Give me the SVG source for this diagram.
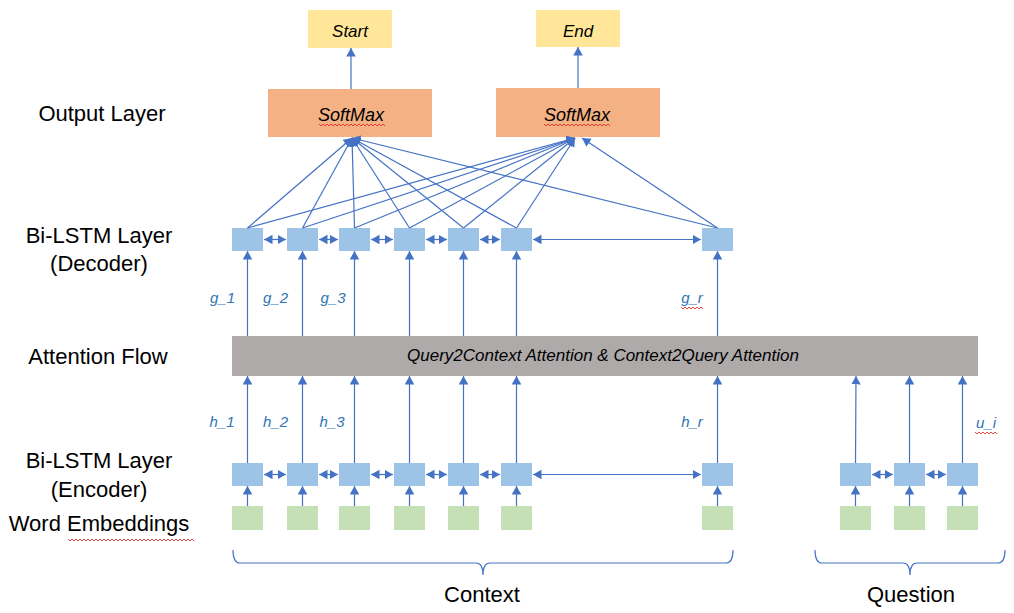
<svg xmlns="http://www.w3.org/2000/svg" width="1014" height="613" viewBox="0 0 1014 613">
<defs>
<marker id="ah" markerUnits="userSpaceOnUse" markerWidth="10" markerHeight="10" refX="8.5" refY="4.75" orient="auto-start-reverse">
<path d="M0,0 L8.5,4.75 L0,9.5 z" fill="#4472C4"/>
</marker>
<style>
.lbl{font-family:"Liberation Sans",Arial,sans-serif;font-size:22px;fill:#000;text-anchor:middle}
.it{font-family:"Liberation Sans",Arial,sans-serif;font-style:italic;font-size:17px;fill:#000;text-anchor:middle}
.var{font-family:"Liberation Sans",Arial,sans-serif;font-style:italic;font-size:15px;fill:#2E75B6;text-anchor:middle}
.out{fill:#FFE699}
.sm{fill:#F4B183}
.lstm{fill:#9DC3E6}
.emb{fill:#C5E0B4}
.att{fill:#AEAAAA}
.c line{stroke:#4472C4;stroke-width:1.2;fill:none}
.up{marker-end:url(#ah)}
.bi{marker-start:url(#ah);marker-end:url(#ah)}
.brace{stroke:#4472C4;stroke-width:1.2;fill:none}
.wavy{stroke:#E0302A;stroke-width:0.9;fill:none}
</style>
</defs>
<rect width="1014" height="613" fill="#fff"/>

<!-- left labels -->
<g id="labels">
<text class="lbl" x="102" y="121">Output Layer</text>
<text class="lbl" x="99" y="243">Bi-LSTM Layer</text>
<text class="lbl" x="99" y="271">(Decoder)</text>
<text class="lbl" x="98" y="364">Attention Flow</text>
<text class="lbl" x="99" y="468">Bi-LSTM Layer</text>
<text class="lbl" x="99" y="497">(Encoder)</text>
<text class="lbl" x="99" y="531">Word Embeddings</text>
<path class="wavy" d="M68,539 l2,2 l2,-2 l2,2 l2,-2 l2,2 l2,-2 l2,2 l2,-2 l2,2 l2,-2 l2,2 l2,-2 l2,2 l2,-2 l2,2 l2,-2 l2,2 l2,-2 l2,2 l2,-2 l2,2 l2,-2 l2,2 l2,-2 l2,2 l2,-2 l2,2 l2,-2 l2,2 l2,-2 l2,2 l2,-2 l2,2 l2,-2 l2,2 l2,-2 l2,2 l2,-2 l2,2 l2,-2 l2,2 l2,-2 l2,2 l2,-2 l2,2 l2,-2 l2,2 l2,-2 l2,2 l2,-2 l2,2 l2,-2 l2,2 l2,-2 l2,2 l2,-2 l2,2 l2,-2 l2,2 l2,-2 l2,2 l2,-2 l2,2"/>
</g>

<!-- output nodes -->
<g id="start"><rect class="out" x="308" y="10" width="84" height="38"/><text class="it" x="350" y="37">Start</text></g>
<g id="end"><rect class="out" x="536" y="10" width="84" height="37"/><text class="it" x="578" y="37">End</text></g>

<g id="softmax1"><rect class="sm" x="268" y="89" width="164" height="48"/><text class="it" x="351" y="121" style="font-size:18px">SoftMax</text>
<path class="wavy" d="M319,124 l2,2 l2,-2 l2,2 l2,-2 l2,2 l2,-2 l2,2 l2,-2 l2,2 l2,-2 l2,2 l2,-2 l2,2 l2,-2 l2,2 l2,-2 l2,2 l2,-2 l2,2 l2,-2 l2,2 l2,-2 l2,2 l2,-2 l2,2 l2,-2 l2,2 l2,-2 l2,2 l2,-2 l2,2 l2,-2 l2,2"/></g>
<g id="softmax2"><rect class="sm" x="496" y="88" width="164" height="49"/><text class="it" x="577" y="121" style="font-size:18px">SoftMax</text>
<path class="wavy" d="M544,124 l2,2 l2,-2 l2,2 l2,-2 l2,2 l2,-2 l2,2 l2,-2 l2,2 l2,-2 l2,2 l2,-2 l2,2 l2,-2 l2,2 l2,-2 l2,2 l2,-2 l2,2 l2,-2 l2,2 l2,-2 l2,2 l2,-2 l2,2 l2,-2 l2,2 l2,-2 l2,2 l2,-2 l2,2 l2,-2 l2,2"/></g>

<!-- decoder -->
<g id="dec1"><rect class="lstm" x="232" y="228" width="31" height="23"/></g>
<g id="dec2"><rect class="lstm" x="287" y="228" width="31" height="23"/></g>
<g id="dec3"><rect class="lstm" x="339" y="228" width="31" height="23"/></g>
<g id="dec4"><rect class="lstm" x="394" y="228" width="31" height="23"/></g>
<g id="dec5"><rect class="lstm" x="448" y="228" width="31" height="23"/></g>
<g id="dec6"><rect class="lstm" x="501" y="228" width="31" height="23"/></g>
<g id="dec7"><rect class="lstm" x="702" y="228" width="31" height="23"/></g>

<!-- attention -->
<g id="attention"><rect class="att" x="232" y="336" width="746" height="40"/>
<text class="it" x="603" y="361">Query2Context Attention &amp; Context2Query Attention</text></g>

<!-- encoder -->
<g id="enc1"><rect class="lstm" x="232" y="463" width="31" height="23"/></g>
<g id="enc2"><rect class="lstm" x="287" y="463" width="31" height="23"/></g>
<g id="enc3"><rect class="lstm" x="339" y="463" width="31" height="23"/></g>
<g id="enc4"><rect class="lstm" x="394" y="463" width="31" height="23"/></g>
<g id="enc5"><rect class="lstm" x="448" y="463" width="31" height="23"/></g>
<g id="enc6"><rect class="lstm" x="501" y="463" width="31" height="23"/></g>
<g id="enc7"><rect class="lstm" x="702" y="463" width="31" height="23"/></g>
<g id="qenc1"><rect class="lstm" x="840" y="463" width="31" height="23"/></g>
<g id="qenc2"><rect class="lstm" x="894" y="463" width="31" height="23"/></g>
<g id="qenc3"><rect class="lstm" x="947" y="463" width="31" height="23"/></g>

<!-- embeddings -->
<g id="emb1"><rect class="emb" x="232" y="506" width="31" height="24"/></g>
<g id="emb2"><rect class="emb" x="287" y="506" width="31" height="24"/></g>
<g id="emb3"><rect class="emb" x="339" y="506" width="31" height="24"/></g>
<g id="emb4"><rect class="emb" x="394" y="506" width="31" height="24"/></g>
<g id="emb5"><rect class="emb" x="448" y="506" width="31" height="24"/></g>
<g id="emb6"><rect class="emb" x="501" y="506" width="31" height="24"/></g>
<g id="emb7"><rect class="emb" x="702" y="506" width="31" height="24"/></g>
<g id="qemb1"><rect class="emb" x="840" y="506" width="31" height="24"/></g>
<g id="qemb2"><rect class="emb" x="894" y="506" width="31" height="24"/></g>
<g id="qemb3"><rect class="emb" x="947" y="506" width="31" height="24"/></g>

<!-- connectors -->
<g id="connectors" class="c">
<line class="up" x1="351" y1="89" x2="351" y2="48"/>
<line class="up" x1="578" y1="88" x2="578" y2="47"/>
<!-- to softmax 1 -->
<line class="up" x1="247.5" y1="228" x2="352" y2="138"/>
<line class="up" x1="302.5" y1="228" x2="352" y2="138"/>
<line class="up" x1="354.5" y1="228" x2="352" y2="138"/>
<line class="up" x1="409.5" y1="228" x2="352" y2="138"/>
<line class="up" x1="463.5" y1="228" x2="352" y2="138"/>
<line class="up" x1="516.5" y1="228" x2="352" y2="138"/>
<line class="up" x1="717.5" y1="228" x2="352" y2="138"/>
<!-- to softmax 2 -->
<line class="up" x1="247.5" y1="228" x2="575" y2="138"/>
<line class="up" x1="302.5" y1="228" x2="575" y2="138"/>
<line class="up" x1="354.5" y1="228" x2="575" y2="138"/>
<line class="up" x1="409.5" y1="228" x2="575" y2="138"/>
<line class="up" x1="463.5" y1="228" x2="575" y2="138"/>
<line class="up" x1="516.5" y1="228" x2="575" y2="138"/>
<line class="up" x1="717.5" y1="228" x2="582" y2="138"/>
<!-- decoder bi arrows -->
<line class="bi" x1="264" y1="239.5" x2="286" y2="239.5"/>
<line class="bi" x1="319" y1="239.5" x2="338" y2="239.5"/>
<line class="bi" x1="371" y1="239.5" x2="393" y2="239.5"/>
<line class="bi" x1="426" y1="239.5" x2="447" y2="239.5"/>
<line class="bi" x1="480" y1="239.5" x2="500" y2="239.5"/>
<line class="bi" x1="533" y1="239.5" x2="701" y2="239.5"/>
<!-- attention to decoder -->
<line class="up" x1="247.5" y1="336" x2="247.5" y2="251"/>
<line class="up" x1="302.5" y1="336" x2="302.5" y2="251"/>
<line class="up" x1="354.5" y1="336" x2="354.5" y2="251"/>
<line class="up" x1="409.5" y1="336" x2="409.5" y2="251"/>
<line class="up" x1="463.5" y1="336" x2="463.5" y2="251"/>
<line class="up" x1="516.5" y1="336" x2="516.5" y2="251"/>
<line class="up" x1="717.5" y1="336" x2="717.5" y2="251"/>
<!-- encoder to attention -->
<line class="up" x1="247.5" y1="463" x2="247.5" y2="376"/>
<line class="up" x1="302.5" y1="463" x2="302.5" y2="376"/>
<line class="up" x1="354.5" y1="463" x2="354.5" y2="376"/>
<line class="up" x1="409.5" y1="463" x2="409.5" y2="376"/>
<line class="up" x1="463.5" y1="463" x2="463.5" y2="376"/>
<line class="up" x1="516.5" y1="463" x2="516.5" y2="376"/>
<line class="up" x1="717.5" y1="463" x2="717.5" y2="376"/>
<line class="up" x1="855.5" y1="463" x2="856" y2="376"/>
<line class="up" x1="909.5" y1="463" x2="909.5" y2="376"/>
<line class="up" x1="962.5" y1="463" x2="962.5" y2="376"/>
<!-- encoder bi arrows -->
<line class="bi" x1="264" y1="474.5" x2="286" y2="474.5"/>
<line class="bi" x1="319" y1="474.5" x2="338" y2="474.5"/>
<line class="bi" x1="371" y1="474.5" x2="393" y2="474.5"/>
<line class="bi" x1="426" y1="474.5" x2="447" y2="474.5"/>
<line class="bi" x1="480" y1="474.5" x2="500" y2="474.5"/>
<line class="bi" x1="533" y1="474.5" x2="701" y2="474.5"/>
<line class="bi" x1="872" y1="474.5" x2="893" y2="474.5"/>
<line class="bi" x1="926" y1="474.5" x2="946" y2="474.5"/>
<!-- embeddings to encoder -->
<line class="up" x1="247.5" y1="506" x2="247.5" y2="486"/>
<line class="up" x1="302.5" y1="506" x2="302.5" y2="486"/>
<line class="up" x1="354.5" y1="506" x2="354.5" y2="486"/>
<line class="up" x1="409.5" y1="506" x2="409.5" y2="486"/>
<line class="up" x1="463.5" y1="506" x2="463.5" y2="486"/>
<line class="up" x1="516.5" y1="506" x2="516.5" y2="486"/>
<line class="up" x1="717.5" y1="506" x2="717.5" y2="486"/>
<line class="up" x1="855.5" y1="506" x2="855.5" y2="486"/>
<line class="up" x1="909.5" y1="506" x2="909.5" y2="486"/>
<line class="up" x1="962.5" y1="506" x2="962.5" y2="486"/>
</g>

<!-- variable labels -->
<g id="varlabels">
<text class="var" x="222.5" y="303">g_1</text>
<text class="var" x="275.5" y="303">g_2</text>
<text class="var" x="333" y="303">g_3</text>
<text class="var" x="692" y="303">g_r</text>
<path class="wavy" d="M681,307 l2,2 l2,-2 l2,2 l2,-2 l2,2 l2,-2 l2,2 l2,-2 l2,2 l2,-2 l2,2"/>
<text class="var" x="222" y="427">h_1</text>
<text class="var" x="275.5" y="427">h_2</text>
<text class="var" x="332" y="427">h_3</text>
<text class="var" x="692" y="427">h_r</text>
<text class="var" x="986" y="428">u_i</text>
<path class="wavy" d="M975,432 l2,2 l2,-2 l2,2 l2,-2 l2,2 l2,-2 l2,2 l2,-2 l2,2 l2,-2 l2,2"/>
</g>

<!-- braces -->
<g id="context">
<path class="brace" d="M233,550 Q233,563 240,563 L476,563 Q483,563 483,575 Q483,563 490,563 L726,563 Q733,563 733,550"/>
<text class="lbl" x="482" y="602">Context</text>
</g>
<g id="question">
<path class="brace" d="M815,550 Q815,563 822,563 L903,563 Q910,563 910,575 Q910,563 917,563 L998,563 Q1005,563 1005,550"/>
<text class="lbl" x="911" y="602">Question</text>
</g>
</svg>
